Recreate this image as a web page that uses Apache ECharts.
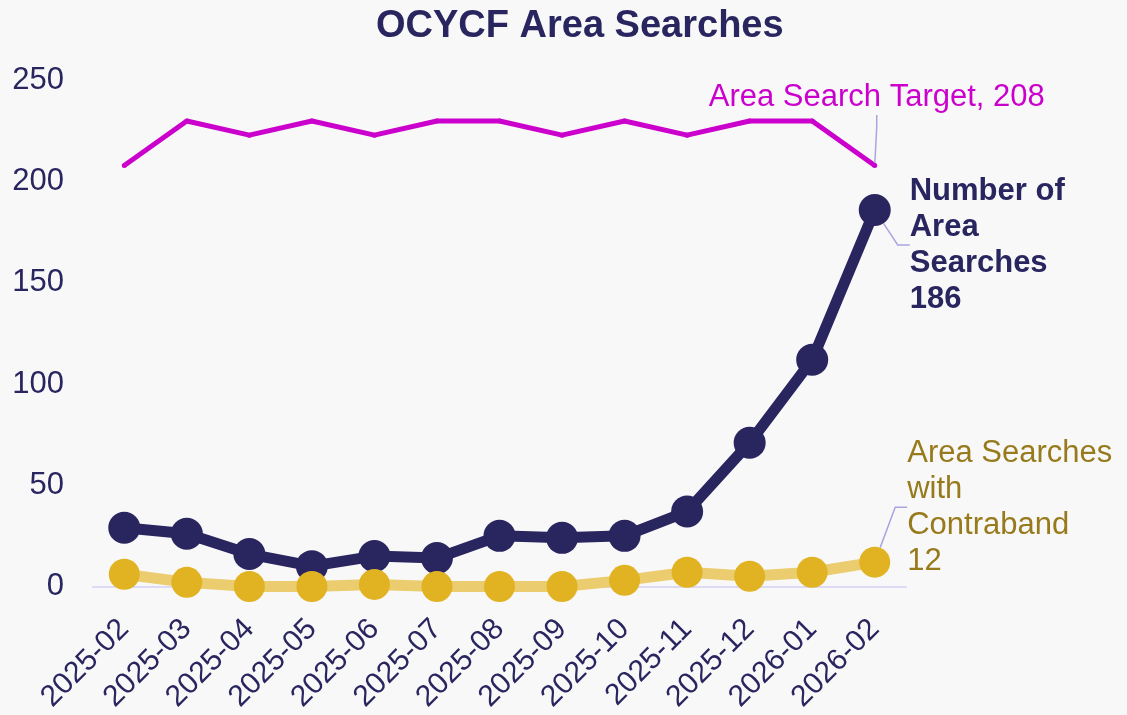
<!DOCTYPE html>
<html>
<head>
<meta charset="utf-8">
<script src="https://cdn.jsdelivr.net/npm/echarts@6/dist/echarts.min.js"></script>
<style>
  html, body { margin: 0; padding: 0; background: #f8f8f8; }
  #chart { width: 1127px; height: 715px; }
</style>
</head>
<body>
<div id="chart"></div>
<script>
const months = ['2025-02', '2025-03', '2025-04', '2025-05', '2025-06', '2025-07', '2025-08',
  '2025-09', '2025-10', '2025-11', '2025-12', '2026-01', '2026-02']
const targetValues = [208, 230, 223, 230, 223, 230, 230, 223, 230, 223, 230, 230, 208]
const searchValues = [29, 26, 16, 10, 15, 14, 25, 24, 25, 37, 71, 112, 186]
const contrabandValues = [6, 2, 0, 0, 1, 0, 0, 0, 3, 7, 5, 7, 12]

const navy = '#29255f'
const magenta = '#cc00cc'
const gold = '#e1b322'
const goldLine = '#ebcc6e'
const goldText = '#977a1c'
const guide = '#a9a5e0'
const font = 'Liberation Sans, Arial, sans-serif'

// only the last point gets a label, pulled off with a guide line
function lastLabeled (values, label) {
  return values.map((v, i) => {
    if (i !== values.length - 1) return v
    return {
      value: v,
      label: Object.assign({ show: true, fontFamily: font, fontSize: 31, lineHeight: 36 }, label),
      labelLine: { show: true, length2: 12, lineStyle: { color: guide, width: 1.5 } }
    }
  })
}

function shiftLast (values, dx, dy) {
  return function (params) {
    if (params.dataIndex !== values.length - 1) return {}
    return { dx: dx, dy: dy }
  }
}

const chart = echarts.init(document.getElementById('chart'))
chart.setOption({
  backgroundColor: '#f8f8f8',
  animation: false,
  title: {
    text: 'OCYCF Area Searches',
    left: 371,
    top: 3,
    textStyle: { color: navy, fontFamily: font, fontSize: 38, fontWeight: 'bold' }
  },
  grid: { left: 93, right: 221, top: 80.5, bottom: 127.5, containLabel: false },
  xAxis: {
    type: 'category',
    data: months,
    boundaryGap: true,
    axisLine: { show: true, lineStyle: { color: '#dcdaf4', width: 2 } },
    axisTick: { show: false },
    axisLabel: { rotate: 45, margin: 38, color: navy, fontFamily: font, fontSize: 30, interval: 0 }
  },
  yAxis: {
    type: 'value',
    min: 0,
    max: 250,
    interval: 50,
    splitLine: { show: false },
    axisLine: { show: false },
    axisTick: { show: false },
    axisLabel: { margin: 29, color: navy, fontFamily: font, fontSize: 31 }
  },
  series: [
    {
      name: 'Area Search Target',
      type: 'line',
      data: lastLabeled(targetValues, {
        position: 'top',
        distance: 5,
        color: magenta,
        formatter: 'Area Search Target, {c}'
      }),
      labelLayout: shiftLast(targetValues, 2, -43),
      symbol: 'circle',
      symbolSize: 5,
      itemStyle: { color: magenta },
      lineStyle: { color: magenta, width: 5 },
      z: 2
    },
    {
      name: 'Number of Area Searches',
      type: 'line',
      data: lastLabeled(searchValues, {
        position: 'right',
        distance: 14,
        color: navy,
        fontWeight: 'bold',
        formatter: 'Number of\nArea\nSearches\n{c}'
      }),
      labelLayout: shiftLast(searchValues, 5, 35),
      symbol: 'circle',
      symbolSize: 32,
      itemStyle: { color: navy },
      lineStyle: { color: navy, width: 11 },
      z: 3
    },
    {
      name: 'Area Searches with Contraband',
      type: 'line',
      data: lastLabeled(contrabandValues, {
        position: 'right',
        distance: 12,
        color: goldText,
        formatter: 'Area Searches\nwith\nContraband\n{c}'
      }),
      labelLayout: shiftLast(contrabandValues, 5, -55),
      symbol: 'circle',
      symbolSize: 31,
      itemStyle: { color: gold },
      lineStyle: { color: goldLine, width: 11 },
      z: 4
    }
  ]
})
</script>
</body>
</html>
